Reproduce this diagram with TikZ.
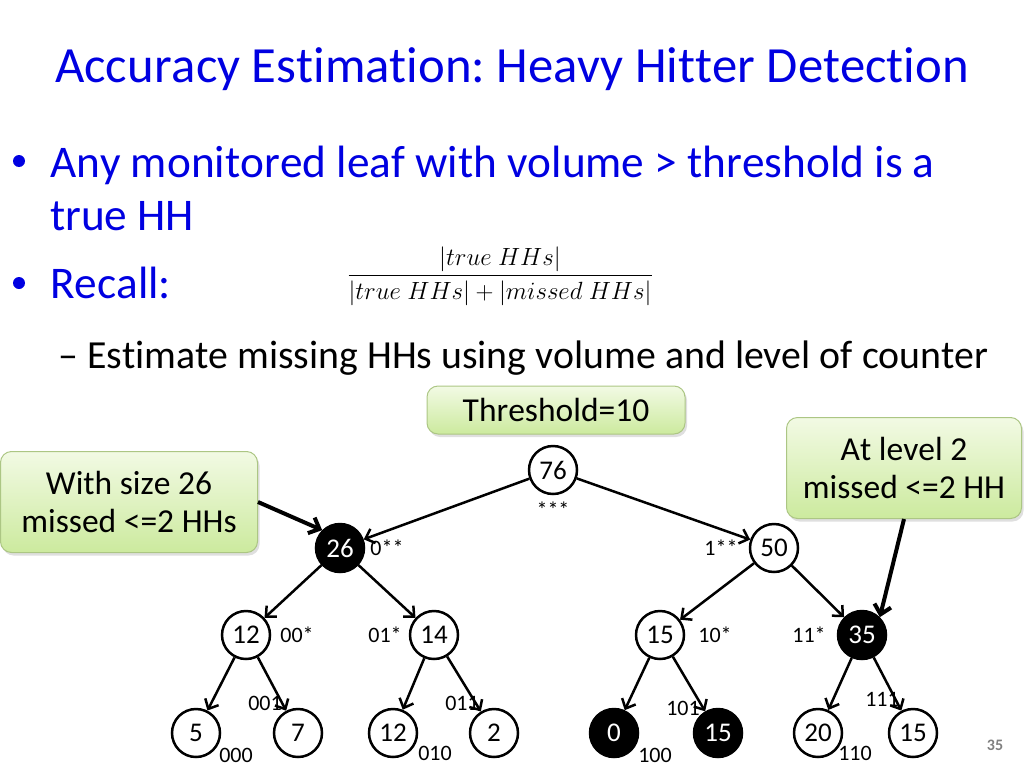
\documentclass[tikz,border=0pt]{standalone}
\usepackage{amsmath}
\usepackage{fontspec}
\setmainfont{Carlito}[Ligatures=NoCommon,Kerning=Off]
\usetikzlibrary{arrows.meta,shadows}
\definecolor{slideblue}{RGB}{0,0,225}
\definecolor{notetop}{RGB}{242,250,228}
\definecolor{notebottom}{RGB}{204,234,158}
\definecolor{noteedge}{RGB}{172,198,132}
\frenchspacing
\begin{document}
\begin{tikzpicture}[x=1pt,y=-1pt,
    hh/.style={circle,draw,line width=2.5pt,minimum size=48pt,inner sep=0pt,font=\fontsize{27}{30}\selectfont},
    hit/.style={hh,fill=black,text=white},
    lbl/.style={inner sep=0pt,font=\fontsize{22}{26}\selectfont},
    edge/.style={line width=2.5pt,-{Straight Barb[length=8pt,width=15pt]}},
    callout/.style={line width=4pt,-{Straight Barb[length=9pt,width=17pt]}},
    note/.style={draw=noteedge,line width=1pt,rounded corners=11pt,top color=notetop,bottom color=notebottom,
      align=center,inner sep=0pt,font=\fontsize{33.5}{38}\selectfont,
      drop shadow={opacity=0.25,shadow xshift=2pt,shadow yshift=-3pt}},
    body/.style={anchor=base west,inner sep=0pt,text=slideblue,font=\fontsize{45.3}{54}\selectfont},
    dot/.style={circle,fill=slideblue,inner sep=0pt,minimum size=12pt}]
  \useasboundingbox (0,0) rectangle (1024,768);
  % title and bullets
  \node[anchor=base,inner sep=0pt,text=slideblue,font=\fontsize{50.7}{60}\selectfont] (title) at (512,82) {Accuracy Estimation: Heavy Hitter Detection};
  \node[dot] (dot1) at (19,161) {};
  \node[body] (any) at (50,177) {Any monitored leaf with volume > threshold is a};
  \node[body] (truehh) at (50,230) {true HH};
  \node[dot] (dot2) at (19,283) {};
  \node[body] (recall) at (50,298) {Recall:};
  \node[inner sep=0pt,font=\fontsize{28.5}{32}\selectfont] (frac) at (500,276)
    {$\dfrac{|true\ HHs|}{|true\ HHs| + |missed\ HHs|}$};
  \node[body,text=black,font=\fontsize{39.8}{48}\selectfont] (est) at (58,368) {-- Estimate missing HHs using volume and level of counter};
  % notes
  \node[note,minimum width=258pt,minimum height=48pt] (thr) at (556,410) {Threshold=10};
  \node[note,minimum width=257pt,minimum height=101pt] (lnote) at (129,502) {With size 26\\missed <=2 HHs};
  \node[note,minimum width=235pt,minimum height=101pt] (rnote) at (904,468) {At level 2\\missed <=2 HH};
  % tree
  \node[hh] (n76) at (553,470) {76};
  \node[hit] (n26) at (340,548) {26};
  \node[hh] (n50) at (774,548) {50};
  \node[hh] (n12) at (246,635) {12};
  \node[hh] (n14) at (434,635) {14};
  \node[hh] (n15) at (660,635) {15};
  \node[hit] (n35) at (862,635) {35};
  \node[hh] (n5) at (196,733) {5};
  \node[hh] (n7) at (298,733) {7};
  \node[hh] (n12b) at (393,733) {12};
  \node[hh] (n2) at (494,733) {2};
  \node[hit] (n0) at (614,733) {0};
  \node[hit] (n15b) at (718,733) {15};
  \node[hh] (n20) at (818,733) {20};
  \node[hh] (n15c) at (913,733) {15};
  \draw[edge] (n76) -- (n26);
  \draw[edge] (n76) -- (n50);
  \draw[edge] (n26) -- (n12);
  \draw[edge] (n26) -- (n14);
  \draw[edge] (n50) -- (n15);
  \draw[edge] (n50) -- (n35);
  \draw[edge] (n12) -- (n5);
  \draw[edge] (n12) -- (n7);
  \draw[edge] (n14) -- (n12b);
  \draw[edge] (n14) -- (n2);
  \draw[edge] (n15) -- (n0);
  \draw[edge] (n15) -- (n15b);
  \draw[edge] (n35) -- (n20);
  \draw[edge] (n35) -- (n15c);
  % prefixes
  \node[lbl] (p76) at (553,510) {***};
  \node[lbl] (p26) at (387,548) {0**};
  \node[lbl] (p50) at (721,548) {1**};
  \node[lbl] (p12) at (297,635) {00*};
  \node[lbl] (p14) at (385,635) {01*};
  \node[lbl] (p15) at (715,635) {10*};
  \node[lbl] (p35) at (809,635) {11*};
  \node[lbl] (p5) at (236,755) {000};
  \node[lbl] (p7) at (265,703) {001};
  \node[lbl] (p12b) at (435,753) {010};
  \node[lbl] (p2) at (462,703) {011};
  \node[lbl] (p0) at (655,755) {100};
  \node[lbl] (p15b) at (683,708) {101};
  \node[lbl] (p20) at (855,753) {110};
  \node[lbl] (p15c) at (882,699) {111};
  % callouts
  \draw[callout] (lnote.east) -- (n26.north west);
  \draw[callout] (rnote.south) -- (n35.north east);
  \node[text=gray,font=\bfseries\fontsize{16}{19}\selectfont] (page) at (995,745) {35};
\end{tikzpicture}
\end{document}
